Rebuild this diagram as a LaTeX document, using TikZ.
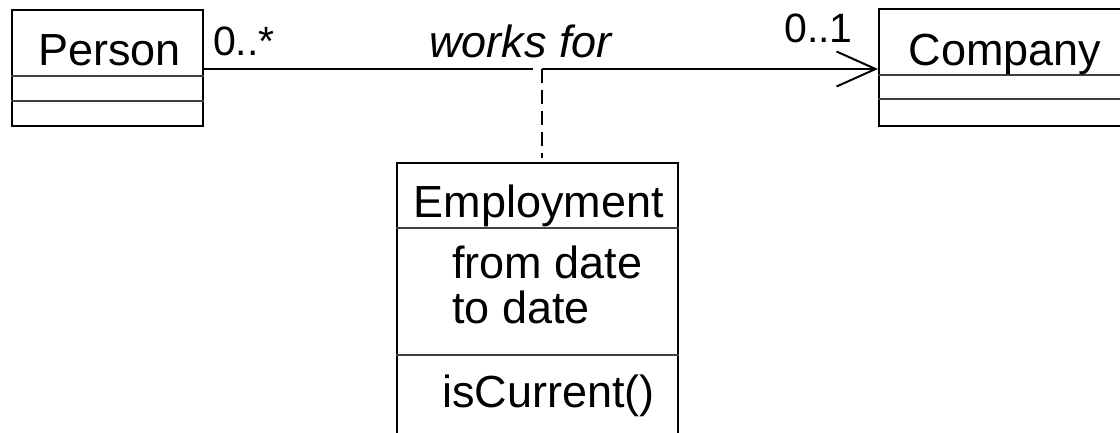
\documentclass[tikz,border=0pt]{standalone}
\usepackage{fontspec}
\setmainfont{Liberation Sans}
\usetikzlibrary{arrows.meta}
\begin{document}
\begin{tikzpicture}[x=1pt,y=-1pt,
  classbox/.style={draw=black, line width=2pt, rectangle, inner sep=0pt},
  sepline/.style={draw=black!75, line width=1.5pt},
  lbl/.style={inner sep=0pt, font=\fontsize{45}{54}\selectfont},
  mult/.style={inner sep=0pt, font=\fontsize{41}{49}\selectfont},
  assoc/.style={line width=2pt},
  openarrow/.style={-{Straight Barb[length=39pt,width=35pt,line width=2pt]}},
  notelink/.style={line width=2pt, dash pattern=on 14pt off 7pt}]
\useasboundingbox (0,0) rectangle (1120,432);
\clip (0,0) rectangle (1120,432);
\fill[white] (0,0) rectangle (1120,432);
% classes
\node[classbox, minimum width=191pt, minimum height=116pt] (person) at (107.5,68) {};
\node[classbox, minimum width=252pt, minimum height=117pt] (company) at (1005,67.5) {};
\node[classbox, minimum width=281pt, minimum height=287pt] (employment) at (537.5,306.5) {};
% compartments
\draw[sepline] (person.west |- 0,76) -- (person.east |- 0,76);
\draw[sepline] (person.west |- 0,101) -- (person.east |- 0,101);
\draw[sepline] (company.west |- 0,75) -- (company.east |- 0,75);
\draw[sepline] (company.west |- 0,99) -- (company.east |- 0,99);
\draw[sepline] (employment.west |- 0,228) -- (employment.east |- 0,228);
\draw[sepline] (employment.west |- 0,355) -- (employment.east |- 0,355);
% texts
\node[lbl, anchor=base] (tperson) at (109.5,65) {Person};
\node[lbl, anchor=base] (tcompany) at (1005,65) {Company};
\node[lbl, anchor=base] (temployment) at (539,217) {Employment};
\node[lbl, anchor=base west] (tfrom) at (452,278) {from date};
\node[lbl, anchor=base west] (tto) at (452,323) {to date};
\node[lbl, anchor=base west] (tcur) at (442,407) {isCurrent()};
\node[lbl, anchor=base west, font=\fontsize{45}{54}\selectfont\itshape] (tworks) at (429,57) {works for};
\node[mult, anchor=base west] (mstar) at (213,55) {0..*};
\node[mult, anchor=base west] (mone) at (784,42) {0..1};
% association
\coordinate (gapL) at (533,69);
\coordinate (gapR) at (542,69);
\draw[assoc] (person.east |- gapL) -- (gapL);
\draw[assoc, openarrow] (gapR) -- (company.west |- gapR);
\draw[notelink, shorten >=4pt] (gapR) -- (employment.north -| gapR);
\end{tikzpicture}
\end{document}
